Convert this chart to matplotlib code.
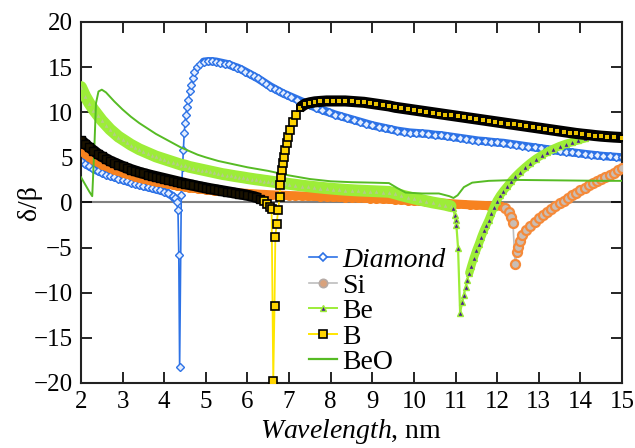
import matplotlib
matplotlib.use("Agg")
import matplotlib.pyplot as plt
from matplotlib.lines import Line2D

SERIF = 'Liberation Serif'
plt.rcParams['font.family'] = SERIF
plt.rcParams['mathtext.fontset'] = 'custom'
plt.rcParams['mathtext.rm'] = 'Liberation Serif'
plt.rcParams['mathtext.it'] = 'Liberation Serif:italic'

# ---------------- data ----------------
diamond_wl = [2.0, 2.1, 2.2, 2.3, 2.4, 2.5, 2.6, 2.7, 2.8, 2.9, 3.0, 3.1, 3.2, 3.3, 3.4, 3.5, 3.6, 3.7, 3.8, 3.9,
              4.0, 4.1, 4.2, 4.25, 4.3, 4.33, 4.35, 4.37, 4.41, 4.44, 4.46, 4.48, 4.50, 4.52, 4.55, 4.58, 4.61,
              4.64, 4.68, 4.72, 4.78, 4.86, 4.95, 5.05, 5.15, 5.25, 5.35, 5.45, 5.55, 5.65, 5.75, 5.85, 5.95,
              6.05, 6.15, 6.25, 6.35, 6.45, 6.55, 6.65, 6.75, 6.85, 6.95, 7.05, 7.2, 7.35, 7.5, 7.65, 7.8, 7.95,
              8.1, 8.25, 8.4, 8.55, 8.7, 8.85, 9.0, 9.15, 9.3, 9.45, 9.6, 9.75, 9.9, 10.05, 10.2, 10.35, 10.5,
              10.65, 10.8, 10.95, 11.1, 11.25, 11.4, 11.55, 11.7, 11.85, 12.0, 12.15, 12.3, 12.45, 12.6, 12.75,
              12.9, 13.05, 13.2, 13.35, 13.5, 13.65, 13.8, 13.95, 14.1, 14.25, 14.4, 14.55, 14.7, 14.85, 15.0]
diamond_val = [4.6, 4.3, 4.0, 3.75, 3.5, 3.3, 3.1, 2.95, 2.8, 2.65, 2.5, 2.35, 2.2, 2.08, 1.95, 1.82, 1.7, 1.58,
               1.45, 1.33, 1.2, 1.0, 0.7, 0.45, 0.0, -0.8, -5.8, -18.2, 0.8, 3.9, 5.8, 7.7, 8.8, 9.7, 10.6, 11.4,
               12.3, 13.0, 13.8, 14.5, 15.0, 15.4, 15.6, 15.65, 15.65, 15.6, 15.5, 15.4, 15.3, 15.1, 14.95, 14.75,
               14.5, 14.25, 14.0, 13.75, 13.45, 13.15, 12.85, 12.6, 12.35, 12.1, 11.9, 11.7, 11.4, 11.1, 10.8,
               10.5, 10.25, 10.0, 9.75, 9.55, 9.35, 9.15, 8.95, 8.75, 8.55, 8.4, 8.25, 8.1, 7.95, 7.85, 7.75,
               7.7, 7.65, 7.6, 7.5, 7.45, 7.35, 7.25, 7.15, 7.05, 6.95, 6.85, 6.8, 6.72, 6.65, 6.6, 6.5, 6.4,
               6.3, 6.2, 6.1, 6.0, 5.9, 5.8, 5.7, 5.63, 5.55, 5.47, 5.38, 5.3, 5.22, 5.15, 5.1, 5.05, 5.0]

si_wl = [2.0, 2.1, 2.2, 2.3, 2.4, 2.5, 2.6, 2.7, 2.8, 2.9, 3.0, 3.1, 3.2, 3.3, 3.4, 3.5, 3.6, 3.7, 3.8, 3.9,
         4.0, 4.1, 4.2, 4.3, 4.4, 4.5, 4.6, 4.7, 4.8, 4.9, 5.0, 5.1, 5.2, 5.3, 5.4, 5.5, 5.6, 5.7, 5.8, 5.9,
         6.0, 6.1, 6.2, 6.3, 6.4, 6.5, 6.6, 6.7, 6.8, 6.9, 7.0, 7.15, 7.3, 7.45, 7.6, 7.75, 7.9, 8.05, 8.2,
         8.35, 8.5, 8.65, 8.8, 8.95, 9.1, 9.25, 9.4, 9.55, 9.7, 9.85, 10.0, 10.15, 10.3, 10.45, 10.6, 10.75,
         10.9, 11.05, 11.2, 11.35, 11.5, 11.65, 11.8, 11.95, 12.1, 12.2, 12.28, 12.33, 12.38, 12.43, 12.48,
         12.5, 12.55, 12.6, 12.7, 12.8, 12.9, 13.0, 13.1, 13.2, 13.3, 13.4, 13.5, 13.6, 13.7, 13.8, 13.9,
         14.0, 14.1, 14.2, 14.3, 14.4, 14.5, 14.6, 14.7, 14.8, 14.9, 15.0]
si_val = [5.8, 5.4, 5.05, 4.75, 4.45, 4.2, 4.0, 3.8, 3.6, 3.45, 3.3, 3.15, 3.0, 2.88, 2.76, 2.64, 2.53, 2.42,
          2.32, 2.22, 2.12, 2.03, 1.95, 1.87, 1.79, 1.72, 1.65, 1.58, 1.52, 1.46, 1.41, 1.36, 1.31, 1.26, 1.22,
          1.18, 1.14, 1.1, 1.07, 1.04, 1.01, 0.98, 0.95, 0.92, 0.9, 0.87, 0.85, 0.83, 0.81, 0.79, 0.77, 0.75,
          0.72, 0.7, 0.67, 0.65, 0.63, 0.6, 0.58, 0.55, 0.52, 0.5, 0.47, 0.44, 0.41, 0.38, 0.35, 0.31, 0.27,
          0.22, 0.17, 0.12, 0.07, 0.02, -0.03, -0.08, -0.13, -0.18, -0.22, -0.26, -0.29, -0.32, -0.35, -0.37,
          -0.42, -0.6, -1.0, -1.6, -2.3, -6.8, -5.5, -4.9, -4.3, -3.6, -3.0, -2.55, -2.15, -1.75, -1.4, -1.05,
          -0.7, -0.4, -0.1, 0.2, 0.5, 0.8, 1.05, 1.35, 1.6, 1.9, 2.15, 2.35, 2.6, 2.8, 3.05, 3.3, 3.55, 3.8]

be_wl = [2.0, 2.1, 2.2, 2.3, 2.4, 2.5, 2.6, 2.7, 2.8, 2.9, 3.0, 3.1, 3.2, 3.3, 3.4, 3.5, 3.6, 3.7, 3.8, 3.9,
         4.0, 4.1, 4.2, 4.3, 4.4, 4.5, 4.6, 4.7, 4.8, 4.9, 5.0, 5.1, 5.2, 5.3, 5.4, 5.5, 5.6, 5.7, 5.8, 5.9,
         6.0, 6.1, 6.2, 6.3, 6.4, 6.5, 6.6, 6.7, 6.8, 6.9, 7.0, 7.15, 7.3, 7.45, 7.6, 7.75, 7.9, 8.05, 8.2,
         8.35, 8.5, 8.65, 8.8, 8.95, 9.1, 9.25, 9.4, 9.55, 9.7, 9.85, 10.0, 10.15, 10.3, 10.45, 10.6, 10.75,
         10.88, 10.94, 10.98, 11.0, 11.02, 11.06, 11.11, 11.16, 11.2, 11.24, 11.28, 11.33, 11.38, 11.44,
         11.5, 11.56, 11.62, 11.68, 11.74, 11.8, 11.86, 11.92, 11.99, 12.07, 12.15, 12.24, 12.34, 12.44,
         12.55, 12.67, 12.8, 12.93, 13.07, 13.2, 13.35, 13.5, 13.65, 13.8, 13.95, 14.1]
be_val = [12.8, 11.8, 11.0, 10.3, 9.7, 9.1, 8.6, 8.1, 7.7, 7.3, 7.0, 6.7, 6.4, 6.15, 5.9, 5.7, 5.5, 5.3, 5.1,
          4.95, 4.8, 4.65, 4.5, 4.35, 4.2, 4.1, 3.95, 3.85, 3.75, 3.65, 3.55, 3.45, 3.35, 3.25, 3.15, 3.08,
          3.0, 2.92, 2.85, 2.78, 2.7, 2.63, 2.56, 2.5, 2.43, 2.37, 2.3, 2.24, 2.18, 2.12, 2.06, 1.97, 1.88,
          1.8, 1.72, 1.65, 1.58, 1.52, 1.46, 1.41, 1.37, 1.33, 1.3, 1.27, 1.24, 1.21, 1.18, 1.0, 0.8, 0.62,
          0.45, 0.3, 0.15, 0.0, -0.12, -0.25, -0.4, -0.6, -1.4, -1.9, -2.5, -5.0, -12.2, -11.0, -10.2, -9.4,
          -8.6, -7.8, -7.0, -6.1, -5.3, -4.6, -3.8, -3.1, -2.5, -1.9, -1.2, -0.5, 0.2, 0.8, 1.3, 1.8, 2.4,
          2.9, 3.4, 3.9, 4.4, 4.85, 5.25, 5.6, 5.95, 6.25, 6.5, 6.7, 6.9, 7.1]

b_wl = [2.0, 2.1, 2.2, 2.3, 2.4, 2.5, 2.6, 2.7, 2.8, 2.9, 3.0, 3.1, 3.2, 3.3, 3.4, 3.5, 3.6, 3.7, 3.8, 3.9,
        4.0, 4.1, 4.2, 4.3, 4.4, 4.5, 4.6, 4.7, 4.8, 4.9, 5.0, 5.1, 5.2, 5.3, 5.4, 5.5, 5.6, 5.7, 5.8, 5.9,
        6.0, 6.1, 6.2, 6.3, 6.4, 6.47, 6.53, 6.58, 6.62, 6.65, 6.67, 6.70, 6.74, 6.77, 6.79, 6.81, 6.83,
        6.85, 6.88, 6.91, 6.94, 6.98, 7.03, 7.09, 7.16, 7.26, 7.38, 7.5, 7.62, 7.75, 7.9, 8.05, 8.2, 8.35,
        8.5, 8.65, 8.8, 8.95, 9.1, 9.25, 9.4, 9.55, 9.7, 9.85, 10.0, 10.15, 10.3, 10.45, 10.6, 10.75, 10.9,
        11.05, 11.2, 11.35, 11.5, 11.65, 11.8, 11.95, 12.1, 12.25, 12.4, 12.55, 12.7, 12.85, 13.0, 13.15,
        13.3, 13.45, 13.6, 13.75, 13.9, 14.05, 14.2, 14.35, 14.5, 14.65, 14.8, 15.0]
b_val = [6.9, 6.5, 6.1, 5.75, 5.4, 5.1, 4.85, 4.6, 4.4, 4.2, 4.0, 3.82, 3.65, 3.5, 3.35, 3.22, 3.1, 2.98, 2.87,
         2.76, 2.65, 2.54, 2.43, 2.32, 2.21, 2.1, 2.0, 1.9, 1.8, 1.71, 1.62, 1.53, 1.45, 1.37, 1.29, 1.21,
         1.13, 1.05, 0.97, 0.89, 0.8, 0.7, 0.58, 0.42, 0.15, -0.2, -0.5, -0.7, -19.8, -11.5, -3.8, -2.4, -0.8,
         0.6, 1.9, 2.8, 3.6, 4.4, 5.0, 5.8, 6.6, 7.3, 8.0, 8.9, 9.7, 10.5, 10.9, 11.05, 11.15, 11.2, 11.25,
         11.25, 11.25, 11.25, 11.2, 11.15, 11.1, 11.0, 10.9, 10.8, 10.7, 10.55, 10.45, 10.35, 10.25, 10.15,
         10.05, 9.95, 9.85, 9.75, 9.65, 9.55, 9.45, 9.35, 9.25, 9.15, 9.05, 8.95, 8.85, 8.75, 8.65, 8.55,
         8.45, 8.35, 8.25, 8.15, 8.05, 7.95, 7.85, 7.75, 7.65, 7.57, 7.5, 7.42, 7.35, 7.3, 7.25, 7.2]

beo_wl = [2.0, 2.1, 2.2, 2.27, 2.32, 2.36, 2.42, 2.5, 2.6, 2.7, 2.8, 3.0, 3.2, 3.4, 3.6, 3.8, 4.0, 4.2, 4.4,
          4.6, 4.8, 5.0, 5.3, 5.6, 6.0, 6.5, 7.0, 7.5, 8.0, 8.5, 9.0, 9.4, 9.6, 9.8, 10.2, 10.6, 10.85,
          10.95, 11.05, 11.2, 11.4, 11.8, 12.5, 13.5, 14.5, 15.0]
beo_val = [2.8, 2.0, 1.2, 0.7, 6.0, 11.0, 12.3, 12.5, 12.2, 11.7, 11.2, 10.3, 9.5, 8.8, 8.2, 7.6, 7.1, 6.6,
           6.1, 5.7, 5.3, 5.0, 4.6, 4.3, 3.9, 3.5, 3.0, 2.6, 2.35, 2.25, 2.2, 2.15, 1.6, 1.1, 1.0, 1.0, 0.7,
           0.5, 0.8, 1.7, 2.2, 2.4, 2.5, 2.45, 2.4, 2.4]

x_ticks = [2, 3, 4, 5, 6, 7, 8, 9, 10, 11, 12, 13, 14, 15]
y_ticks = [-20, -15, -10, -5, 0, 5, 10, 15, 20]
y_ticklabels = ['\u221220', '\u221215', '\u221210', '\u22125', '0', '5', '10', '15', '20']
labels = ['Diamond', 'Si', 'Be', 'B', 'BeO']


def part(xs, ys, lo, hi):
    sel = [(x, y) for x, y in zip(xs, ys) if lo <= x <= hi]
    return [p[0] for p in sel], [p[1] for p in sel]


# ---------------- colours / styles ----------------
blue = '#2d72e6'
orange = '#f7821f'
lgreen = '#9ded38'
dgreen = '#56bb24'
yellow = '#ffe600'

fig = plt.figure(figsize=(6.35, 4.48), dpi=100)
ax = fig.add_axes([81 / 635, 0.1451, (622 - 81) / 635, 0.8058])

ax.axhline(0, color='#808080', lw=1.5, zorder=1)

# Diamond
ax.plot(diamond_wl, diamond_val, color=blue, lw=1.2, zorder=2)
for lo, hi in [(2.0, 4.25), (4.9, 15.0)]:
    xs, ys = part(diamond_wl, diamond_val, lo, hi)
    ax.plot(xs, ys, color=blue, lw=6, solid_capstyle='round', zorder=2)
ax.plot(diamond_wl, diamond_val, ls='none', marker='D', ms=4.0, mfc='#e3edff', mec=blue, mew=1.0, zorder=2)

# Si
ax.plot(si_wl, si_val, color='#bdbdbd', lw=1.2, zorder=3)
xs, ys = part(si_wl, si_val, 2.0, 12.12)
ax.plot(xs, ys, color=orange, lw=6.5, solid_capstyle='round', zorder=3)
ax.plot(xs, ys, ls='none', marker='o', ms=5.5, mfc=orange, mec=orange, zorder=3)
xs, ys = part(si_wl, si_val, 12.15, 15.0)
ax.plot(xs, ys, ls='none', marker='o', ms=6.5, mfc='#c9bdb5', mec='#f58a3a', mew=1.6, zorder=3)

# Be
ax.plot(be_wl, be_val, color=lgreen, lw=1.6, zorder=4)
xs, ys = part(be_wl, be_val, 2.0, 10.9)
ax.plot(xs, ys, color=lgreen, lw=8.5, solid_capstyle='round', zorder=4)
ax.plot(xs, ys, ls='none', marker='^', ms=4.5, mfc='#b4cc88', mec=lgreen, mew=1.0, zorder=4)
xs, ys = part(be_wl, be_val, 11.3, 14.1)
ax.plot(xs, ys, color=lgreen, lw=6, solid_capstyle='round', zorder=4)
xs, ys = part(be_wl, be_val, 10.9, 14.1)
ax.plot(xs, ys, ls='none', marker='^', ms=5, mfc='#4a1f8f', mec=lgreen, mew=1.0, zorder=4)

# BeO
ax.plot(beo_wl, beo_val, color=dgreen, lw=1.4, zorder=5)

# B
ax.plot(b_wl, b_val, color=yellow, lw=1.3, zorder=6)
for lo, hi in [(2.0, 6.35), (7.2, 15.0)]:
    xs, ys = part(b_wl, b_val, lo, hi)
    ax.plot(xs, ys, color='black', lw=8, solid_capstyle='butt', zorder=6)
xs, ys = part(b_wl, b_val, 2.0, 6.35)
ax.plot(xs, ys, ls='none', marker='s', ms=5.5, mfc='#1a1200', mec='black', zorder=6)
xs, ys = part(b_wl, b_val, 6.4, 7.2)
ax.plot(xs, ys, ls='none', marker='s', ms=5.5, mfc='#ffd400', mec='black', mew=1.2, zorder=6)
xs, ys = part(b_wl, b_val, 7.25, 15.0)
ax.plot(xs, ys, ls='none', marker='s', ms=4.2, mfc='#e8c000', mec='black', mew=1.4, zorder=6)

ax.set_xlim(2, 15)
ax.set_ylim(-20, 20)
ax.set_xticks(x_ticks)
ax.set_yticks(y_ticks)
ax.set_yticklabels(y_ticklabels)
ax.tick_params(direction='in', length=8, width=1.2, top=True, right=True, labelsize=18, pad=6)
for lab in ax.get_xticklabels() + ax.get_yticklabels():
    lab.set_fontfamily(SERIF)
for s in ax.spines.values():
    s.set_linewidth(1.5)
    s.set_color('#222222')

ax.set_xlabel(r'$\it{Wavelength}$, nm', fontsize=20, labelpad=3, fontfamily=SERIF)
ax.set_ylabel('\u03b4/\u03b2', fontsize=20, fontfamily=SERIF)
ax.yaxis.set_label_coords(-0.072, 0.5)

handles = [
    Line2D([], [], color=blue, lw=1.2, marker='D', ms=4.5, mfc='white', mec=blue, mew=1.2),
    Line2D([], [], color='#bdbdbd', lw=1.2, marker='o', ms=6, mfc='#d9a27c', mec='#b5aaa5', mew=1.2),
    Line2D([], [], color=lgreen, lw=1.4, marker='^', ms=5, mfc='#4a1f8f', mec=lgreen, mew=1.0),
    Line2D([], [], color=yellow, lw=1.4, marker='s', ms=5.5, mfc='#ffd400', mec='black', mew=1.2),
    Line2D([], [], color=dgreen, lw=1.6),
]
leg = ax.legend(handles, labels, loc='upper left', bbox_to_anchor=(0.465, 0.478),
                bbox_transform=fig.transFigure, frameon=False, handlelength=1.0,
                handletextpad=0.2, labelspacing=0.0, borderpad=0,
                prop={'family': SERIF, 'size': 20})
leg.get_texts()[0].set_fontstyle('italic')

fig.savefig('out.png', dpi=100)
